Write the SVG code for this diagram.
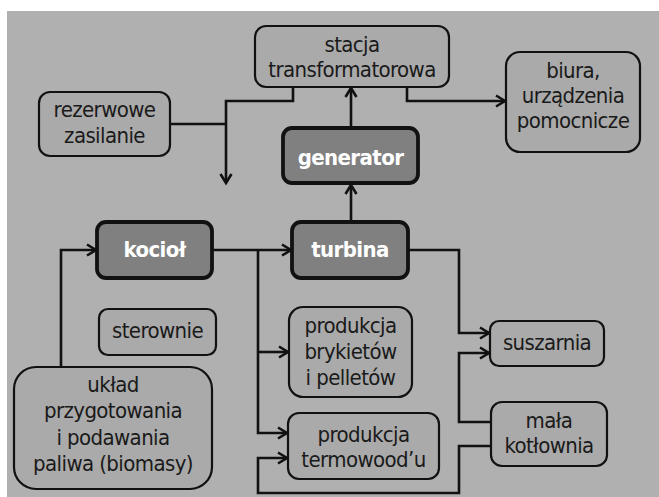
<svg xmlns="http://www.w3.org/2000/svg" width="659" height="497" viewBox="0 0 659 497">
<defs>
<marker id="arr" markerUnits="userSpaceOnUse" markerWidth="14" markerHeight="14" refX="11" refY="7" orient="auto">
<path d="M2,1.5 L11,7 L2,12.5" fill="none" stroke="#111" stroke-width="2.6"/>
</marker>
<style>
.bx{fill:#aaaaaa;stroke:#111;stroke-width:2.2}
.dk{fill:#808080;stroke:#111;stroke-width:3.8}
.t{font-family:"DejaVu Sans Condensed","DejaVu Sans",sans-serif;font-stretch:condensed;font-size:22px;letter-spacing:-0.6px;fill:#1a1a1a;text-anchor:middle}
.tb{font-family:"DejaVu Sans Condensed","DejaVu Sans",sans-serif;font-stretch:condensed;font-size:22px;letter-spacing:-0.6px;font-weight:bold;fill:#ffffff;text-anchor:middle}
.c{fill:none;stroke:#111;stroke-width:2.6}
</style>
</defs>
<rect x="0" y="0" width="659" height="497" fill="#ffffff"/>
<rect x="7" y="11" width="652" height="486" fill="#b0b0b0"/>
<g id="connectors">
<path class="c" d="M351,128 V88" marker-end="url(#arr)"/>
<path class="c" d="M351,222 V185" marker-end="url(#arr)"/>
<path class="c" d="M293,87 V101 H226 V183" marker-end="url(#arr)"/>
<path class="c" d="M170,124 H226"/>
<path class="c" d="M407,87 V101 H505" marker-end="url(#arr)"/>
<path class="c" d="M61,367 V250 H96" marker-end="url(#arr)"/>
<path class="c" d="M212,250 H291" marker-end="url(#arr)"/>
<path class="c" d="M258,250 V433 H287" marker-end="url(#arr)"/>
<path class="c" d="M258,352 H288" marker-end="url(#arr)"/>
<path class="c" d="M408,250 H459 V333 H489" marker-end="url(#arr)"/>
<path class="c" d="M491,422 H459 V353 H489" marker-end="url(#arr)"/>
<path class="c" d="M491,446 H459 V493 H258 V458 H287" marker-end="url(#arr)"/>
</g>
<g id="stacja">
<rect class="bx" x="255" y="26" width="194" height="61" rx="11"/>
<text class="t" x="352" y="52">stacja</text>
<text class="t" x="352" y="77">transformatorowa</text>
</g>
<g id="rezerwowe">
<rect class="bx" x="39" y="92" width="131" height="64" rx="11"/>
<text class="t" x="104.5" y="117">rezerwowe</text>
<text class="t" x="104.5" y="143">zasilanie</text>
</g>
<g id="biura">
<rect class="bx" x="506" y="52" width="134" height="100" rx="14"/>
<text class="t" x="573" y="78">biura,</text>
<text class="t" x="573" y="103">urządzenia</text>
<text class="t" x="573" y="128">pomocnicze</text>
</g>
<g id="generator">
<rect class="dk" x="283" y="128" width="135" height="55" rx="9"/>
<text class="tb" x="350.5" y="165">generator</text>
</g>
<g id="kociol">
<rect class="dk" x="97" y="222" width="115" height="56" rx="9"/>
<text class="tb" x="154.5" y="257">kocioł</text>
</g>
<g id="turbina">
<rect class="dk" x="292" y="222" width="116" height="56" rx="9"/>
<text class="tb" x="350" y="257">turbina</text>
</g>
<g id="sterownie">
<rect class="bx" x="99" y="309" width="117" height="46" rx="9"/>
<text class="t" x="157.5" y="338">sterownie</text>
</g>
<g id="uklad">
<rect class="bx" x="14" y="367" width="198" height="122" rx="22"/>
<text class="t" x="113" y="392">układ</text>
<text class="t" x="113" y="418">przygotowania</text>
<text class="t" x="113" y="445">i podawania</text>
<text class="t" x="113" y="471">paliwa (biomasy)</text>
</g>
<g id="brykiety">
<rect class="bx" x="289" y="307" width="123" height="90" rx="14"/>
<text class="t" x="350.5" y="333">produkcja</text>
<text class="t" x="350.5" y="359">brykietów</text>
<text class="t" x="350.5" y="385">i pelletów</text>
</g>
<g id="termowood">
<rect class="bx" x="288" y="413" width="151" height="66" rx="11"/>
<text class="t" x="363.5" y="442">produkcja</text>
<text class="t" x="363.5" y="467">termowood’u</text>
</g>
<g id="suszarnia">
<rect class="bx" x="490" y="321" width="114" height="45" rx="9"/>
<text class="t" x="547" y="350">suszarnia</text>
</g>
<g id="mala">
<rect class="bx" x="491" y="402" width="116" height="64" rx="11"/>
<text class="t" x="549" y="428">mała</text>
<text class="t" x="549" y="453">kotłownia</text>
</g>
</svg>
